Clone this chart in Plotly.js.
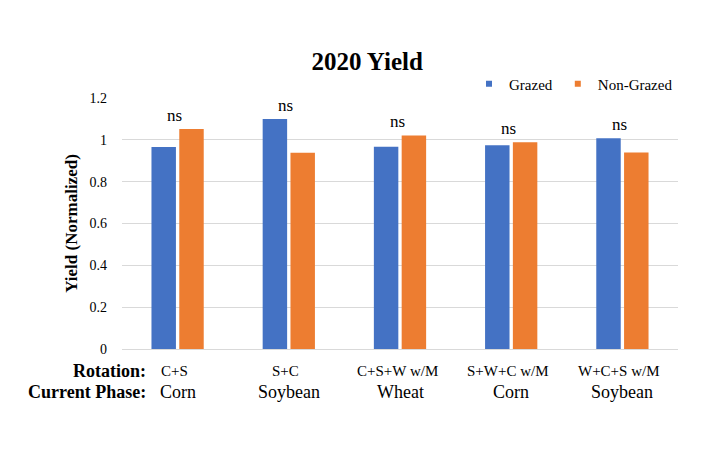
<!DOCTYPE html>
<html><head><meta charset="utf-8">
<script src="https://cdn.plot.ly/plotly-3.0.1.min.js"></script>
<style>body{margin:0;background:#fff}#c{width:720px;height:466px}</style>
</head><body><div id="c"></div>
<script>
const categories = ["C+S", "S+C", "C+S+W w/M", "S+W+C w/M", "W+C+S w/M"];
const phases = ["Corn", "Soybean", "Wheat", "Corn", "Soybean"];
const grazed = [0.966, 1.10, 0.967, 0.974, 1.007];
const nonGrazed = [1.052, 0.938, 1.021, 0.988, 0.940];
const sigLabels = ["ns", "ns", "ns", "ns", "ns"];
const yTicks = [0, 0.2, 0.4, 0.6, 0.8, 1, 1.2];
const seriesNames = ["Grazed", "Non-Grazed"];
const colors = ["#4472C4", "#ED7D31"];

const font = "Liberation Serif, Times New Roman, serif";

const traces = [
  {type: "bar", name: seriesNames[0], x: categories, y: grazed, marker: {color: colors[0]}, showlegend: false, legendgroup: "g"},
  {type: "bar", name: seriesNames[1], x: categories, y: nonGrazed, marker: {color: colors[1]}, showlegend: false, legendgroup: "n"},
  // legend entries (small square keys like the reference)
  {type: "scatter", mode: "markers", name: seriesNames[0], x: [null], y: [null], legendgroup: "g",
   marker: {symbol: "square", size: 6, color: colors[0]}},
  {type: "scatter", mode: "markers", name: seriesNames[1], x: [null], y: [null], legendgroup: "n",
   marker: {symbol: "square", size: 6, color: colors[1]}}
];

const annotations = [];
categories.forEach((c, i) => {
  annotations.push({
    x: c, y: Math.max(grazed[i], nonGrazed[i]), xref: "x", yref: "y",
    text: sigLabels[i], showarrow: false, yanchor: "bottom", yshift: 2, xshift: -3,
    font: {family: font, size: 17, color: "#000"}
  });
  annotations.push({
    x: c, y: -0.086, xref: "x", yref: "paper", yanchor: "middle", xshift: -3,
    text: c, showarrow: false, font: {family: font, size: 15, color: "#000"}
  });
  annotations.push({
    x: c, y: -0.172, xref: "x", yref: "paper", yanchor: "middle",
    text: phases[i], showarrow: false, font: {family: font, size: 18, color: "#000"}
  });
});
annotations.push({
  xref: "paper", yref: "paper", x: 0.047, y: -0.086, xanchor: "right", yanchor: "middle",
  text: "<b>Rotation:</b>", showarrow: false, font: {family: font, size: 18, color: "#000"}
});
annotations.push({
  xref: "paper", yref: "paper", x: 0.047, y: -0.172, xanchor: "right", yanchor: "middle",
  text: "<b>Current Phase:</b>", showarrow: false, font: {family: font, size: 18, color: "#000"}
});

const layout = {
  width: 720, height: 466,
  margin: {l: 122, r: 42, t: 98, b: 117},
  paper_bgcolor: "#fff", plot_bgcolor: "#fff",
  font: {family: font, color: "#000"},
  title: {text: "<b>2020 Yield</b>", x: 0.51, xanchor: "center", y: 0.869, yanchor: "middle",
          font: {family: font, size: 25, color: "#000"}},
  barmode: "group", bargap: 0.5, bargroupgap: 0.12,
  showlegend: true,
  legend: {orientation: "h", x: 1.0, xanchor: "right", y: 0.99, yanchor: "bottom",
           font: {family: font, size: 15, color: "#000"}, itemwidth: 30, traceorder: "normal",
           bgcolor: "rgba(0,0,0,0)"},
  xaxis: {tickmode: "array", tickvals: categories, showticklabels: false,
          showgrid: false, showline: true, linecolor: "#d9d9d9", ticks: "", fixedrange: true,
          range: [-0.5, 4.5]},
  yaxis: {range: [0, 1.2], tickvals: yTicks, ticktext: yTicks.map(v => String(v)),
          showgrid: true, gridcolor: "#d9d9d9", zeroline: false, ticks: "", ticklabelstandoff: 14,
          tickfont: {family: font, size: 14, color: "#000"},
          title: {text: "<b>Yield (Normalized)</b>", font: {family: font, size: 17, color: "#000"}, standoff: 7}},
  annotations: annotations
};
Plotly.newPlot("c", traces, layout, {displayModeBar: false, staticPlot: true});
</script></body></html>
